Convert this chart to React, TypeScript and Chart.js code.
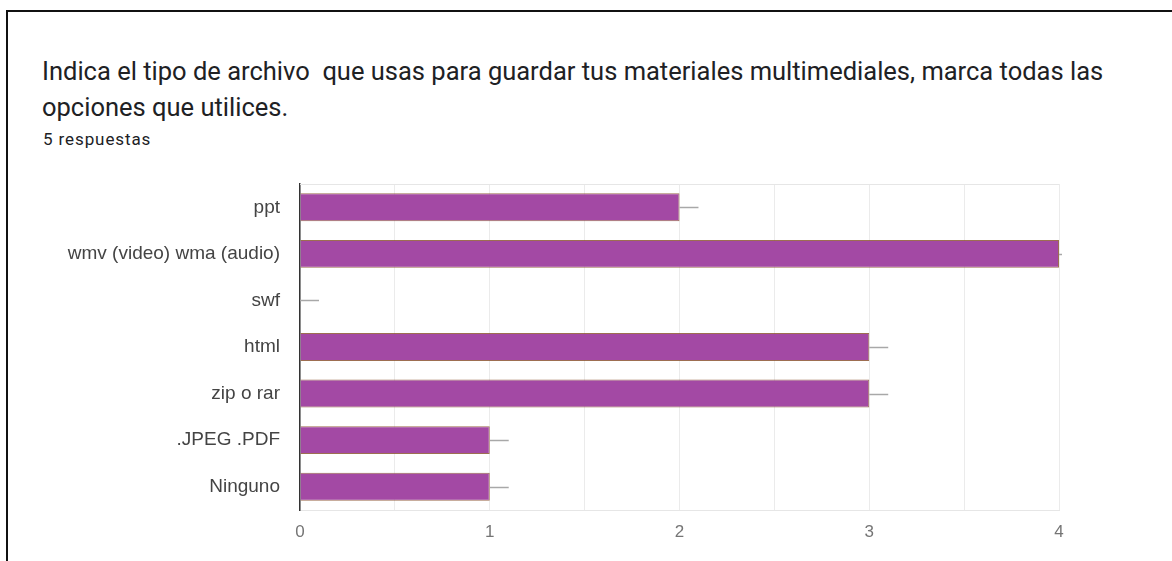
import React, { useEffect, useRef } from "react";
import { Chart, registerables } from "chart.js";

Chart.register(...registerables);

const categories = [
  "ppt",
  "wmv (video) wma (audio)",
  "swf",
  "html",
  "zip o rar",
  ".JPEG .PDF",
  "Ninguno",
];
const counts = [2, 4, 0, 3, 3, 1, 1];
const xTicks = [0, 1, 2, 3, 4];
const titleLine1 =
  "Indica el tipo de archivo  que usas para guardar tus materiales multimediales, marca todas las";
const titleLine2 = "opciones que utilices.";
const subtitle = "5 respuestas";

const stubPlugin = {
  id: "stubs",
  beforeDatasetsDraw(chart: any) {
    const { ctx, chartArea } = chart;
    ctx.save();
    ctx.strokeStyle = "#e6e6e6";
    ctx.lineWidth = 1;
    ctx.beginPath();
    ctx.moveTo(chartArea.left, chartArea.top + 0.5);
    ctx.lineTo(chartArea.right, chartArea.top + 0.5);
    ctx.stroke();
    ctx.restore();
  },
  afterDatasetsDraw(chart: any) {
    const { ctx, chartArea } = chart;
    const xs = chart.scales.x;
    const ys = chart.scales.y;
    ctx.save();
    ctx.beginPath();
    ctx.rect(chartArea.left, chartArea.top, chartArea.right - chartArea.left + 3, chartArea.bottom - chartArea.top);
    ctx.clip();
    ctx.strokeStyle = "#a8a8a8";
    ctx.lineWidth = 1.5;
    counts.forEach((v, i) => {
      const y = Math.round(ys.getPixelForValue(i)) + 0.5;
      const x1 = xs.getPixelForValue(v);
      const x2 = xs.getPixelForValue(v + 0.1);
      ctx.beginPath();
      ctx.moveTo(x1, y);
      ctx.lineTo(x2, y);
      ctx.stroke();
    });
    ctx.restore();
  },
};

export default function App() {
  const ref = useRef<HTMLCanvasElement>(null);
  useEffect(() => {
    document.body.style.margin = "0";
    const chart = new Chart(ref.current!, {
      type: "bar",
      data: {
        labels: categories,
        datasets: [
          {
            data: counts,
            backgroundColor: "#a349a4",
            borderColor: "rgba(140,85,50,0.85)",
            borderWidth: 1,
            categoryPercentage: 0.6,
            barPercentage: 1,
          },
        ],
      },
      options: {
        indexAxis: "y",
        animation: false,
        responsive: false,
        maintainAspectRatio: false,
        layout: { padding: { top: 4, right: 113, bottom: 0, left: 0 } },
        plugins: { legend: { display: false }, tooltip: { enabled: false } },
        scales: {
          x: {
            min: 0,
            max: 4,
            afterBuildTicks(scale: any) {
              const t: any[] = [];
              for (let v = 0; v <= 4; v += 0.5) t.push({ value: v });
              scale.ticks = t;
            },
            afterFit(scale: any) {
              scale.height = 51;
              scale.paddingLeft = 0;
              scale.paddingRight = 0;
            },
            grid: { color: "#ebebeb", drawTicks: false, lineWidth: 1 },
            border: { display: true, color: "#e6e6e6" },
            ticks: {
              padding: 12,
              color: "#757575",
              font: { family: "'Liberation Sans', Arial", size: 17 },
              callback: (v: any) => (xTicks.includes(Number(v)) ? String(v) : ""),
            },
          },
          y: {
            afterFit(scale: any) {
              scale.width = 300;
              scale.paddingTop = 0;
              scale.paddingBottom = 0;
            },
            grid: { display: false, drawTicks: false },
            border: { display: true, color: "#333", width: 1.5 },
            ticks: {
              padding: 20,
              color: "#444",
              font: { family: "'Liberation Sans', Arial", size: 19 },
            },
          },
        },
      },
      plugins: [stubPlugin],
    });
    return () => chart.destroy();
  }, []);

  return (
    <div style={{ position: "relative", width: 1172, height: 561, overflow: "hidden", background: "#fff" }}>
      <div
        style={{
          position: "absolute",
          left: 6,
          top: 10,
          width: 1200,
          height: 600,
          borderLeft: "2px solid #111",
          borderTop: "2px solid #111",
        }}
      />
      <div
        style={{
          position: "absolute",
          left: 42,
          top: 53,
          fontFamily: "Roboto, 'Noto Sans', sans-serif",
          fontSize: 25.5,
          lineHeight: "36px",
          color: "#202124",
          whiteSpace: "pre",
        }}
      >
        {titleLine1}
        {"\n"}
        {titleLine2}
      </div>
      <div
        style={{
          position: "absolute",
          left: 43,
          top: 129,
          fontFamily: "Roboto, 'Noto Sans', sans-serif",
          fontSize: 17,
          letterSpacing: 0.9,
          color: "#202124",
        }}
      >
        {subtitle}
      </div>
      <canvas
        ref={ref}
        width={1172}
        height={381}
        style={{ position: "absolute", left: 0, top: 180, width: 1172, height: 381 }}
      />
    </div>
  );
}
